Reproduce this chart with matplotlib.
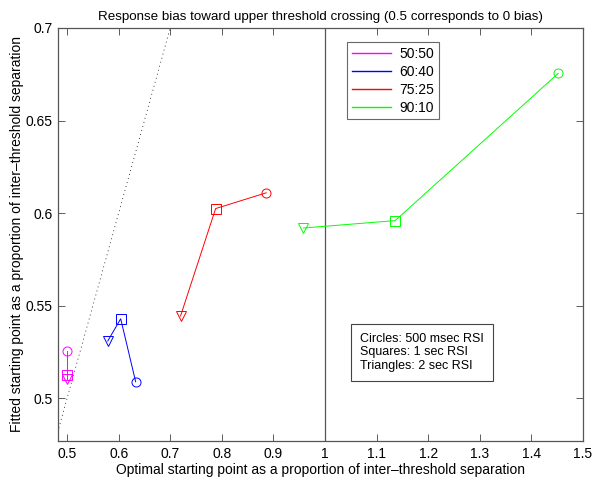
import matplotlib
matplotlib.use("Agg")
import matplotlib.pyplot as plt
from matplotlib.ticker import FuncFormatter
from matplotlib.lines import Line2D

plt.rcParams['font.family'] = ['Liberation Sans', 'DejaVu Sans']

# Data: order = circle (500 msec), square (1 sec), triangle (2 sec)
labels = ['50:50', '60:40', '75:25', '90:10']
colors = ['#ff00ff', '#0000ff', '#ff0000', '#00ff00']
optimal_x = [
    [0.500, 0.500, 0.500],
    [0.633, 0.604, 0.579],
    [0.886, 0.788, 0.720],
    [1.452, 1.136, 0.958],
]
fitted_y = [
    [0.5255, 0.5125, 0.5105],
    [0.5090, 0.5430, 0.5310],
    [0.6110, 0.6025, 0.5445],
    [0.6755, 0.5960, 0.5920],
]
markers = ['o', 's', 'v']
xticks = [0.5, 0.6, 0.7, 0.8, 0.9, 1.0, 1.1, 1.2, 1.3, 1.4, 1.5]
yticks = [0.5, 0.55, 0.6, 0.65, 0.7]
xlim = (0.4825, 1.5)
ylim = (0.477, 0.7)

W, H = 600, 483
L, R, T, B = 58, 583, 28, 441
fig = plt.figure(figsize=(W/100, H/100), dpi=100)
ax = fig.add_axes([L/W, 1-B/H, (R-L)/W, (B-T)/H])

def ax_x(px):
    return (px - L) / (R - L)

def ax_y(py):
    return 1 - (py - T) / (B - T)

# identity line
ax.plot([0.4, 0.8], [0.4, 0.8], linestyle=(0, (1, 4)), color='black', lw=0.6)
# vertical line at x = 1
ax.axvline(1.0, color='#555555', lw=0.9)

handles = []
for xs, ys, c, lab in zip(optimal_x, fitted_y, colors, labels):
    ax.plot(xs, ys, color=c, lw=0.7)
    handles.append(Line2D([], [], color=c, lw=1.0, label=lab))
    for x, y, m in zip(xs, ys, markers):
        ax.plot([x], [y], marker=m, markersize=6.5, markerfacecolor='none',
                markeredgecolor=c, markeredgewidth=0.7, linestyle='none')

ax.set_xlim(*xlim)
ax.set_ylim(*ylim)
ax.set_xticks(xticks)
ax.set_yticks(yticks)
fmt = FuncFormatter(lambda v, p: '%g' % round(v, 3))
ax.xaxis.set_major_formatter(fmt)
ax.yaxis.set_major_formatter(fmt)
ax.tick_params(direction='in', top=True, right=True, labelsize=10, length=5,
               width=0.6, color='#444444', pad=4)
for s in ax.spines.values():
    s.set_color('#555555')
    s.set_linewidth(0.9)

ax.set_title('Response bias toward upper threshold crossing (0.5 corresponds to 0 bias)',
             fontsize=9.6, pad=6)
ax.set_xlabel('Optimal starting point as a proportion of inter\u2013threshold separation',
              fontsize=10, labelpad=2)
ax.set_ylabel('Fitted starting point as a proportion of inter\u2013threshold separation',
              fontsize=10, labelpad=1)

leg = ax.legend(handles=handles, loc='upper left', bbox_to_anchor=(ax_x(347), ax_y(42)),
                fontsize=10, frameon=True, fancybox=False, handlelength=2.8,
                borderpad=0.35, labelspacing=0.28, handletextpad=0.6,
                borderaxespad=0)
leg.get_frame().set_edgecolor('#444444')
leg.get_frame().set_linewidth(0.8)

ax.text(ax_x(484), ax_y(333), 'Circles: 500 msec RSI\nSquares: 1 sec RSI\nTriangles: 2 sec RSI',
        transform=ax.transAxes, fontsize=9, va='top', ha='right', multialignment='left',
        linespacing=1.15,
        bbox=dict(boxstyle='square,pad=0.75', facecolor='white', edgecolor='#444444', lw=0.8))

fig.savefig('out.png', dpi=100)
